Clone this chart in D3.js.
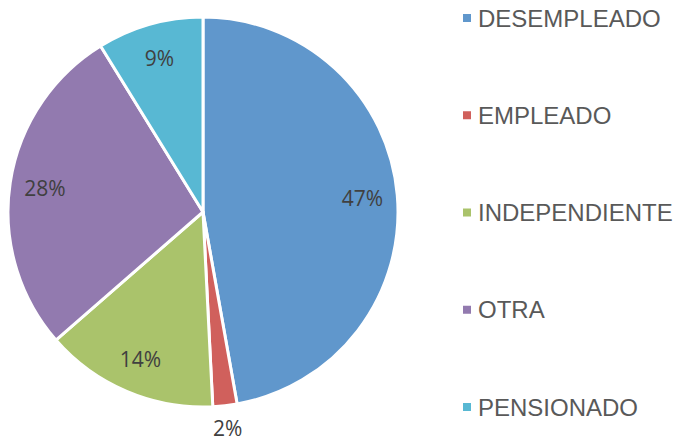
<!DOCTYPE html>
<html>
<head>
<meta charset="utf-8">
<script src="https://cdn.jsdelivr.net/npm/d3@7"></script>
<style>
  body { margin: 0; background: #fff; }
  svg { display: block; }
</style>
</head>
<body>
<div id="chart"></div>
<script>
// situación laboral - pie chart
const categories = ["DESEMPLEADO", "EMPLEADO", "INDEPENDIENTE", "OTRA", "PENSIONADO"];
const values = [47.2, 2.0, 14.4, 27.6, 8.8];
const colors = ["#6097cc", "#d0605c", "#aac36b", "#927aaf", "#58b8d3"];

const width = 676, height = 442;
const cx = 203, cy = 212, radius = 195;

const svg = d3.select("#chart").append("svg")
    .attr("width", width)
    .attr("height", height);

const total = d3.sum(values);
const data = categories.map((c, i) => ({name: c, value: values[i], color: colors[i]}));

const pie = d3.pie().value(d => d.value).sort(null);
const arcs = pie(data);

const arc = d3.arc().innerRadius(0).outerRadius(radius);
const labelArc = d3.arc().innerRadius(160).outerRadius(160);
const outerArc = d3.arc().innerRadius(218).outerRadius(218);

const g = svg.append("g").attr("transform", `translate(${cx},${cy})`);

g.selectAll("path.slice")
    .data(arcs)
    .join("path")
    .attr("class", "slice")
    .attr("d", arc)
    .attr("fill", d => d.data.color)
    .attr("stroke", "#fff")
    .attr("stroke-width", 3)
    .attr("stroke-linejoin", "round");

// percentage labels; small slices go outside
g.selectAll("text.pct")
    .data(arcs)
    .join("text")
    .attr("class", "pct")
    .attr("transform", d => {
        const small = d.data.value / total < 0.05;
        const p = (small ? outerArc : labelArc).centroid(d);
        return `translate(${p[0]},${p[1]})`;
    })
    .attr("text-anchor", "middle")
    .attr("dy", "0.36em")
    .attr("font-family", "'Open Sans', sans-serif")
    .attr("font-size", 21)
    .attr("fill", "#404040")
    .text(d => Math.round(d.data.value / total * 100) + "%");

// legend
const legendY = d3.scalePoint().domain(categories).range([18, 407]);

const legend = svg.append("g").attr("class", "legend");
const items = legend.selectAll("g")
    .data(data)
    .join("g")
    .attr("transform", d => `translate(463,${legendY(d.name)})`);

items.append("rect")
    .attr("x", 0)
    .attr("y", -4)
    .attr("width", 8)
    .attr("height", 8)
    .attr("fill", d => d.color);

items.append("text")
    .attr("x", 15)
    .attr("dy", "0.36em")
    .attr("font-family", "'Liberation Sans', Arial, sans-serif")
    .attr("font-size", 24)
    .attr("fill", "#595959")
    .text(d => d.name);
</script>
</body>
</html>
